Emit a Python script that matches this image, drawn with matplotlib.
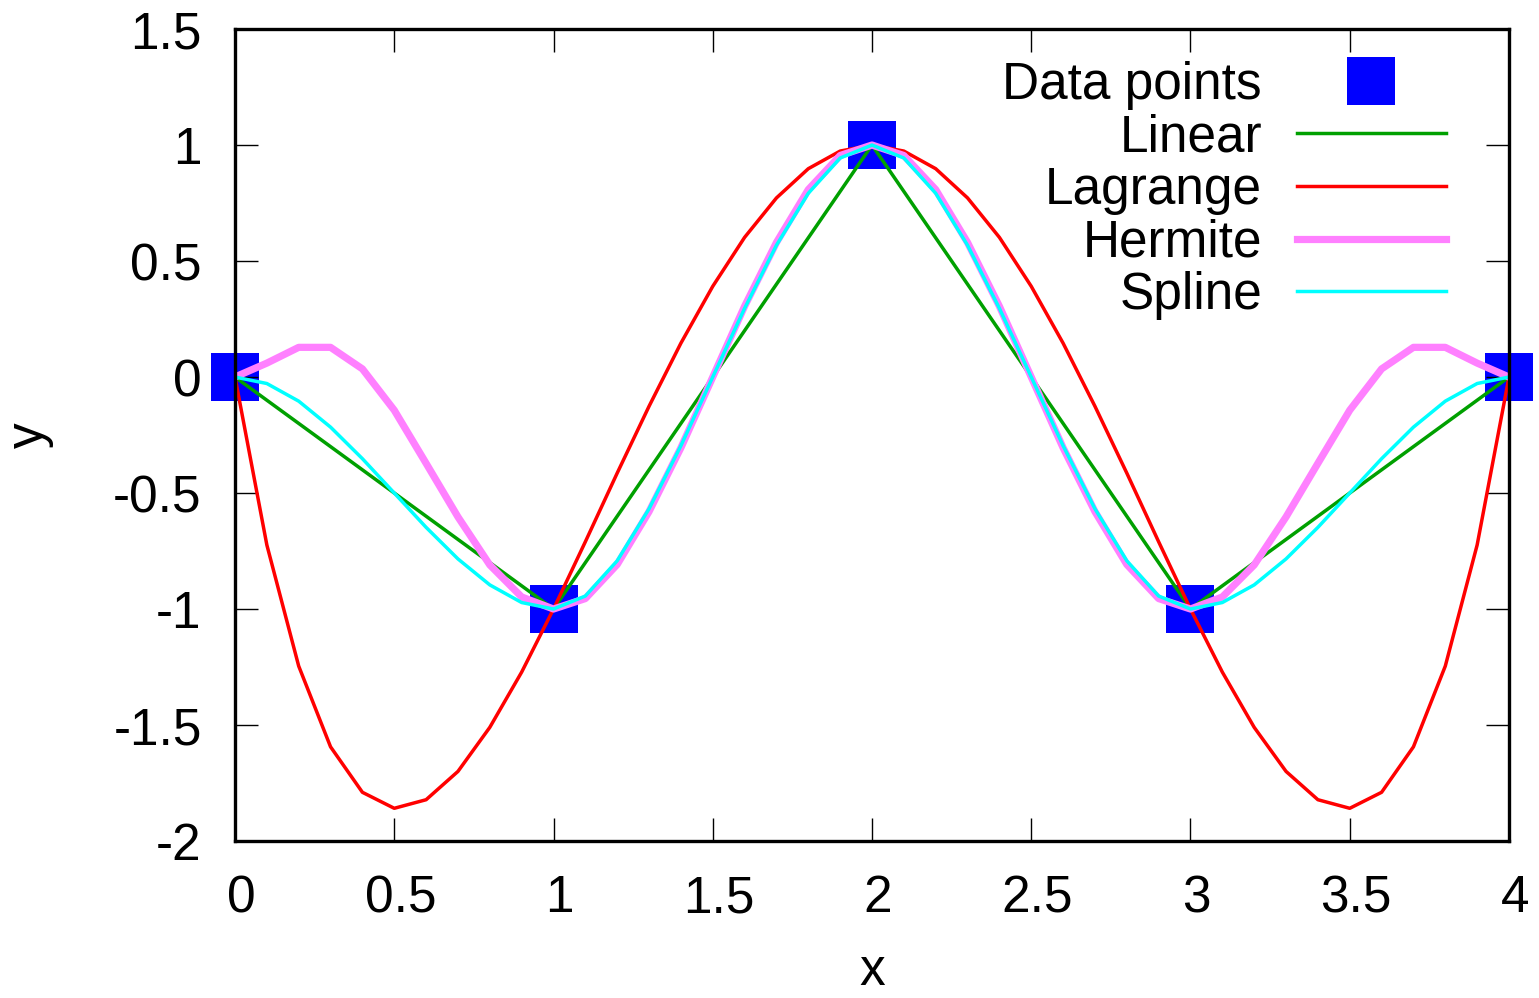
import matplotlib.pyplot as plt
from matplotlib.ticker import FormatStrFormatter
from matplotlib.transforms import ScaledTranslation

plt.rcParams["font.family"] = ["Liberation Sans", "DejaVu Sans"]

# interpolation nodes
x_nodes = [0, 1, 2, 3, 4]
y_nodes = [0, -1, 1, -1, 0]

# evaluation grid for the interpolants
x_fine = [0.0, 0.1, 0.2, 0.3, 0.4, 0.5, 0.6, 0.7, 0.8, 0.9,
          1.0, 1.1, 1.2, 1.3, 1.4, 1.5, 1.6, 1.7, 1.8, 1.9,
          2.0, 2.1, 2.2, 2.3, 2.4, 2.5, 2.6, 2.7, 2.8, 2.9,
          3.0, 3.1, 3.2, 3.3, 3.4, 3.5, 3.6, 3.7, 3.8, 3.9, 4.0]

lagrange = [0.0, -0.724, -1.246, -1.594, -1.790, -1.859, -1.822, -1.700, -1.510, -1.272,
            -1.0, -0.710, -0.414, -0.126, 0.146, 0.391, 0.602, 0.772, 0.898, 0.974,
            1.0, 0.974, 0.898, 0.772, 0.602, 0.391, 0.146, -0.126, -0.414, -0.710,
            -1.0, -1.272, -1.510, -1.700, -1.822, -1.859, -1.790, -1.594, -1.246, -0.724, 0.0]

hermite = [0.0, 0.060, 0.128, 0.128, 0.035, -0.143, -0.372, -0.603, -0.810, -0.948,
           -1.0, -0.955, -0.808, -0.580, -0.305, 0.0, 0.305, 0.580, 0.808, 0.955,
           1.0, 0.955, 0.808, 0.580, 0.305, 0.0, -0.305, -0.580, -0.808, -0.955,
           -1.0, -0.948, -0.810, -0.603, -0.372, -0.143, 0.035, 0.128, 0.128, 0.060, 0.0]

spline = [0.0, -0.028, -0.104, -0.216, -0.352, -0.5, -0.648, -0.784, -0.896, -0.972,
          -1.0, -0.944, -0.792, -0.568, -0.296, 0.0, 0.296, 0.568, 0.792, 0.944,
          1.0, 0.944, 0.792, 0.568, 0.296, 0.0, -0.296, -0.568, -0.792, -0.944,
          -1.0, -0.972, -0.896, -0.784, -0.648, -0.5, -0.352, -0.216, -0.104, -0.028, 0.0]

x_ticks = [0, 0.5, 1, 1.5, 2, 2.5, 3, 3.5, 4]
y_ticks = [-2, -1.5, -1, -0.5, 0, 0.5, 1, 1.5]

fig = plt.figure(figsize=(15.39, 9.98), dpi=100)
ax = fig.add_axes([0.1527, 0.1573, 0.8278, 0.8136])

ax.plot(x_nodes, y_nodes, ls="none", marker="s", ms=34.5, mew=0, color="#0000ff",
        clip_on=False, zorder=1, label="Data points")
ax.plot(x_nodes, y_nodes, color="#00a000", lw=2.5, label="Linear")
ax.plot(x_fine, lagrange, color="#ff0000", lw=2.5, label="Lagrange")
ax.plot(x_fine, hermite, color="#ff80ff", lw=5.2, label="Hermite")
ax.plot(x_fine, spline, color="#00ffff", lw=2.5, label="Spline")

ax.set_xlim(0, 4)
ax.set_ylim(-2, 1.5)
ax.set_xticks(x_ticks)
ax.set_yticks(y_ticks)
ax.xaxis.set_major_formatter(FormatStrFormatter("%g"))
ax.yaxis.set_major_formatter(FormatStrFormatter("%g"))
ax.tick_params(direction="in", length=16.5, width=1.0, top=True, right=True,
               labelsize=37)
ax.tick_params(axis="x", pad=24)
ax.tick_params(axis="y", pad=24)
for sp in ax.spines.values():
    sp.set_linewidth(2.4)

# nudge x tick labels a little to the right
shift = ScaledTranslation(6 / 100, 0, fig.dpi_scale_trans)
for lbl in ax.get_xticklabels():
    lbl.set_transform(lbl.get_transform() + shift)

ax.set_xlabel("x", fontsize=37)
ax.set_ylabel("y", fontsize=37)
ax.xaxis.set_label_coords(0.5, -0.13)
ax.yaxis.set_label_coords(-0.142, 0.5)

ax.legend(loc="upper right", bbox_to_anchor=(0.9505, 0.961), frameon=False,
          markerfirst=False, fontsize=37, handlelength=2.9, handletextpad=0.68,
          labelspacing=0.07, borderpad=0, borderaxespad=0, numpoints=1)

fig.savefig("out.png", dpi=100)
